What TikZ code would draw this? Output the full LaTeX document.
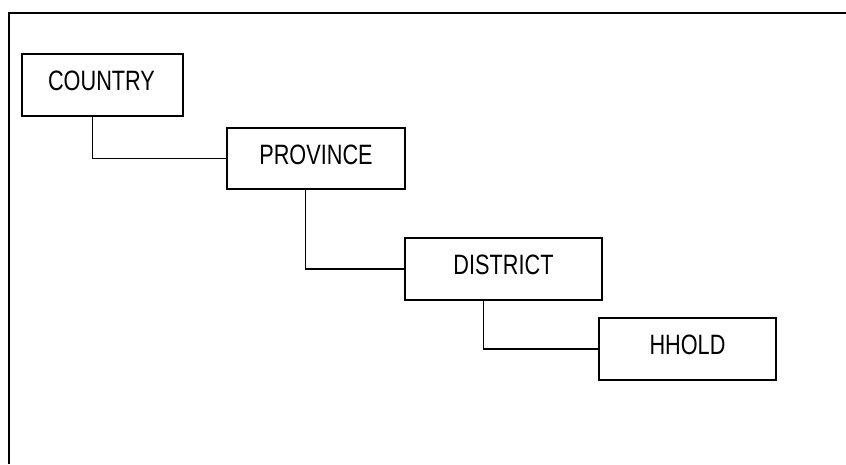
\documentclass[tikz,border=0pt]{standalone}
\usepackage{fontspec}
\setmainfont[FakeStretch=0.775]{Liberation Sans}
\begin{document}
\begin{tikzpicture}[x=1pt,y=-1pt,
  levelbox/.style={draw=black, line width=1.4pt, fill=white, inner sep=0pt, font=\fontsize{28}{30}\selectfont},
  link/.style={draw=black, line width=1.4pt}]
\useasboundingbox (0,0) rectangle (846,464);
\coordinate (fl) at (9,464);
\coordinate (fc) at (9,13);
\coordinate (fr) at (846,13);
\draw[line width=2pt] (fl) -- (fc) -- (fr);
\node[levelbox, minimum width=161pt, minimum height=62pt] (country) at (102.5,85) {};
\node[levelbox, minimum width=178pt, minimum height=61pt] (province) at (316,158.5) {};
\node[levelbox, minimum width=197pt, minimum height=62pt] (district) at (503.5,269) {};
\node[levelbox, minimum width=177pt, minimum height=62pt] (hhold) at (687.5,349) {};
\node[font=\fontsize{28}{30}\selectfont, inner sep=0pt] (tc) at (101.5,81) {COUNTRY};
\node[font=\fontsize{28}{30}\selectfont, inner sep=0pt] (tp) at (316,155) {PROVINCE};
\node[font=\fontsize{28}{30}\selectfont, inner sep=0pt] (td) at (503.5,265) {DISTRICT};
\node[font=\fontsize{28}{30}\selectfont, inner sep=0pt] (th) at (687.5,344.5) {HHOLD};
\draw[link] (country.south west) ++(71,0) |- (province.west);
\draw[link] (province.south west) ++(79,0) |- (district.west);
\draw[link] (district.south west) ++(79,0) |- (hhold.west);
\end{tikzpicture}
\end{document}
